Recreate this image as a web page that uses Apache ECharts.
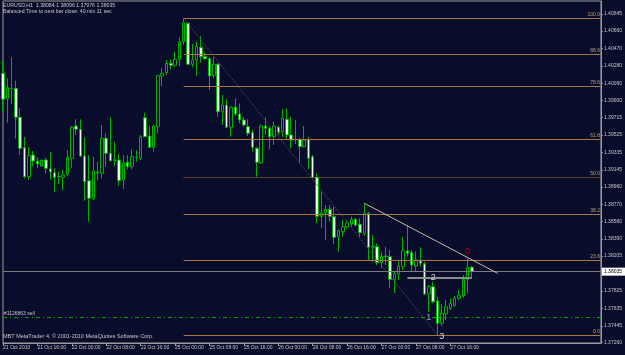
<!DOCTYPE html>
<html><head><meta charset="utf-8">
<script src="https://cdn.jsdelivr.net/npm/echarts@6/dist/echarts.min.js"></script>
<style>html,body{margin:0;padding:0;background:#0a0c2c;}#c{width:625px;height:355px;}</style>
</head><body><div id="c"></div>
<script>
// ---- data ----
const sessions = [['21 Oct', 8, 24], ['22 Oct', 0, 24], ['25 Oct', 0, 24], ['26 Oct', 0, 24], ['27 Oct', 0, 24], ['28 Oct', 0, 24], ['29 Oct', 0, 4]];
const tickLabels = ['21 Oct 2010','21 Oct 16:00','22 Oct 00:00','22 Oct 08:00','22 Oct 16:00','25 Oct 00:00','25 Oct 08:00','25 Oct 16:00','26 Oct 00:00','26 Oct 08:00','26 Oct 16:00','27 Oct 00:00','27 Oct 08:00','27 Oct 16:00'];
const priceTicks = [1.37260,1.37445,1.37635,1.37825,1.38205,1.38390,1.38580,1.38770,1.38960,1.39145,1.39335,1.39525,1.39715,1.39900,1.40090,1.40280,1.40470,1.40660,1.40845];

const open = [1.40199,1.39921,1.40033,1.40035,1.39719,1.39387,1.39071,1.39307,1.39242,1.39187,
1.39253,1.39158,1.39114,1.39071,1.39064,1.39097,1.39271,1.39624,1.39588,1.39296,
1.39027,1.38828,1.39122,1.39108,1.39490,1.39326,1.39253,1.39253,1.39035,1.39228,
1.39180,1.39282,1.39271,1.39714,1.39515,1.39391,1.39616,1.40169,1.40205,1.40308,
1.40286,1.40351,1.40543,1.40744,1.40297,1.40344,1.40482,1.40380,1.40358,1.40173,
1.40297,1.39780,1.39853,1.39610,1.39828,1.39755,1.39689,1.39616,1.39551,1.39380,
1.39223,1.39624,1.39599,1.39507,1.39610,1.39562,1.39697,1.39526,1.39471,1.39479,
1.39398,1.39479,1.39289,1.39064,1.38635,1.38678,1.38716,1.38635,1.38416,1.38471,
1.38525,1.38555,1.38606,1.38552,1.38452,1.38671,1.38301,1.38307,1.38133,1.38206,
1.38198,1.37951,1.38010,1.38089,1.38261,1.38242,1.38097,1.38155,1.38119,1.37791,
1.37871,1.37715,1.37472,1.37574,1.37635,1.37664,1.37744,1.37770,1.37951,1.38084];
const close = [1.39915,1.40041,1.40036,1.39719,1.39380,1.39071,1.39300,1.39242,1.39209,1.39253,
1.39162,1.39122,1.39064,1.39073,1.39089,1.39282,1.39610,1.39588,1.39296,1.39016,
1.38835,1.39133,1.39111,1.39490,1.39326,1.39245,1.39250,1.39027,1.39223,1.39180,
1.39289,1.39285,1.39507,1.39507,1.39391,1.39624,1.40173,1.40199,1.40308,1.40286,
1.40351,1.40543,1.40750,1.40297,1.40344,1.40489,1.40380,1.40358,1.40169,1.40297,
1.39780,1.39853,1.39610,1.39828,1.39755,1.39689,1.39635,1.39544,1.39391,1.39228,
1.39624,1.39599,1.39507,1.39624,1.39555,1.39708,1.39526,1.39471,1.39476,1.39398,
1.39471,1.39271,1.39064,1.38639,1.38678,1.38716,1.38639,1.38410,1.38482,1.38525,
1.38569,1.38606,1.38544,1.38460,1.38671,1.38301,1.38315,1.38133,1.38206,1.38198,
1.37951,1.38010,1.38097,1.38264,1.38235,1.38108,1.38162,1.38126,1.37791,1.37871,
1.37707,1.37472,1.37581,1.37653,1.37690,1.37744,1.37780,1.37951,1.38083,1.38035];
const high = [1.40336,1.40144,1.40373,1.40118,1.39817,1.39504,1.39398,1.39351,1.39282,1.39253,
1.39278,1.39337,1.39162,1.39125,1.39144,1.39362,1.39624,1.39697,1.39697,1.39500,
1.39307,1.39289,1.39234,1.39635,1.39544,1.39719,1.39452,1.39318,1.39307,1.39307,
1.39370,1.39362,1.39526,1.39769,1.39624,1.39635,1.40180,1.40253,1.40344,1.40351,
1.40434,1.40591,1.40798,1.40750,1.40518,1.40543,1.40605,1.40423,1.40376,1.40380,
1.40311,1.39962,1.39915,1.39842,1.39926,1.39871,1.39719,1.39697,1.39580,1.39398,
1.39642,1.39719,1.39616,1.39671,1.39635,1.39809,1.39817,1.39725,1.39689,1.39490,
1.39624,1.39507,1.39307,1.39108,1.38907,1.38762,1.38762,1.38743,1.38497,1.38599,
1.38591,1.38635,1.38617,1.38617,1.38781,1.38689,1.38435,1.38344,1.38253,1.38307,
1.38271,1.38035,1.38144,1.38416,1.38544,1.38271,1.38253,1.38301,1.38144,1.37890,
1.37926,1.37762,1.37682,1.37726,1.37744,1.37770,1.37835,1.37999,1.38181,1.38096];
const low = [1.39780,1.39660,1.39864,1.39485,1.39307,1.39053,1.39035,1.39187,1.39162,1.39180,
1.39108,1.39042,1.38901,1.38991,1.38926,1.39078,1.39169,1.39526,1.39289,1.38809,
1.38580,1.38817,1.39035,1.39053,1.39180,1.39234,1.39187,1.38973,1.38937,1.39151,
1.39151,1.39234,1.39253,1.39507,1.39384,1.39343,1.39544,1.40060,1.40180,1.40242,
1.40271,1.40278,1.40507,1.40289,1.40264,1.40169,1.40314,1.40344,1.40016,1.40144,
1.39725,1.39635,1.39599,1.39507,1.39733,1.39653,1.39616,1.39515,1.39343,1.39071,
1.39209,1.39526,1.39370,1.39416,1.39526,1.39507,1.39471,1.39380,1.39427,1.39217,
1.39391,1.39151,1.39057,1.38563,1.38508,1.38380,1.38580,1.38337,1.38253,1.38416,
1.38508,1.38525,1.38525,1.38416,1.38424,1.38162,1.38144,1.38108,1.38072,1.38108,
1.37853,1.37799,1.37944,1.38053,1.38198,1.38035,1.38035,1.38089,1.37780,1.37598,
1.37690,1.37341,1.37441,1.37508,1.37617,1.37653,1.37726,1.37748,1.37799,1.37976];

const fibHighBar = 42, fibLowBar = 101;
const fibHigh = 1.40798, fibLow = 1.37341;
const fibLevels = [0, 23.6, 38.2, 50.0, 61.8, 78.6, 88.6, 100.0];
const bidPrice = 1.38035;
const orderPrice = 1.37540, orderLabel = '#1126863 sell';
const trendLine = [[84, 1.38781], [115, 1.38017]];
const greySegment = [[94, 1.37969], [109, 1.37969]];
const waveLabels = [
  {name: '1', bar: 99, price: 1.37530, color: '#9aa3c4'},
  {name: '2', bar: 100, price: 1.37973, color: '#d8d8d8'},
  {name: '3', bar: 102, price: 1.37326, color: '#d8d8d8'},
  {name: '0', bar: 108, price: 1.38260, color: '#b00000'}
];
const headerLines = ['EURUSD,H1  1.38084 1.38096 1.37976 1.38035', 'Balanced Time to next bar close: 40 min 11 sec'];
const footerText = 'MBT MetaTrader 4, \u00a9 2001-2010 MetaQuotes Software Corp.';

// ---- build ----
const categories = [];
sessions.forEach(([d, a, b]) => { for (let h = a; h < b; h++) categories.push(d + ' ' + String(h).padStart(2, '0') + ':00'); });
const candles = open.map((o, i) => [o, close[i], low[i], high[i]]);
const lastCat = categories.length - 1;
const BG = '#0a0c2c', GREEN = '#00b000', FONT = 'Liberation Sans';

const fibLines = fibLevels.map(l => {
  const p = fibLow + (fibHigh - fibLow) * l / 100;
  return [
    {coord: [categories[fibHighBar], p], lineStyle: {type: l === 50 ? 'dotted' : 'solid'},
     label: {show: true, position: 'insideEndTop', formatter: l.toFixed(1), color: '#b8a27a', fontSize: 5, fontFamily: FONT, distance: 1}},
    {coord: [categories[lastCat], p]}
  ];
});

const chart = echarts.init(document.getElementById('c'), null, {renderer: 'canvas'});
chart.setOption({
  animation: false,
  backgroundColor: BG,
  textStyle: {fontFamily: FONT},
  grid: {left: 2, right: 23, top: 1, bottom: 12, show: true, borderColor: '#9a9a9a', borderWidth: 1, backgroundColor: BG},
  xAxis: {
    type: 'category', data: categories, boundaryGap: false,
    axisLine: {lineStyle: {color: '#9a9a9a'}},
    axisTick: {show: true, length: 3, lineStyle: {color: '#9a9a9a'}, interval: (i) => i % 8 === 0 && i / 8 < tickLabels.length},
    axisLabel: {interval: (i) => i % 8 === 0 && i / 8 < tickLabels.length, formatter: (v, i) => tickLabels[i / 8] || '',
      align: 'left', color: '#c4c4c4', fontSize: 5, fontFamily: FONT, margin: 2},
    splitLine: {show: false}
  },
  yAxis: {
    type: 'value', position: 'right', min: 1.37257, max: 1.40987, scale: true,
    axisLine: {show: true, lineStyle: {color: '#9a9a9a'}},
    axisTick: {show: true, length: 2, customValues: priceTicks, lineStyle: {color: '#9a9a9a'}},
    axisLabel: {customValues: priceTicks, formatter: v => v.toFixed(5), color: '#c4c4c4', fontSize: 5, fontFamily: FONT, margin: 3},
    splitLine: {show: false}
  },
  graphic: [
    {type: 'text', left: 3, top: 3, style: {text: headerLines[0], fill: '#c8c8c8', font: '5.2px "Liberation Sans"'}},
    {type: 'text', left: 3, top: 9, style: {text: headerLines[1], fill: '#c8c8c8', font: '5.2px "Liberation Sans"'}},
    {type: 'text', left: 3, top: 333, style: {text: footerText, fill: '#c8c8c8', font: '5.5px "Liberation Sans"'}}
  ],
  series: [
    {
      type: 'candlestick', data: candles, barWidth: 3,
      itemStyle: {color: BG, color0: '#e6ffe6', borderColor: GREEN, borderColor0: GREEN, borderWidth: 1},
      markLine: {
        silent: true, symbol: 'none', animation: false,
        lineStyle: {color: '#a8763c', width: 1, type: 'solid'},
        label: {show: false},
        data: [
          [{coord: [categories[0], orderPrice], lineStyle: {color: '#00a000', type: [4, 3, 1, 3]},
            label: {show: true, position: 'insideStartTop', formatter: orderLabel, color: '#c4c4c4', fontSize: 5, fontFamily: FONT, distance: 1}},
           {coord: [categories[lastCat], orderPrice]}],
          [{coord: [categories[0], bidPrice], lineStyle: {color: '#7c7c7c'},
            label: {show: true, position: 'end', formatter: bidPrice.toFixed(5), color: '#000', backgroundColor: '#ffffff', fontSize: 5, fontFamily: FONT, padding: [2, 3, 1, 2], distance: 1}},
           {coord: [categories[lastCat], bidPrice]}],
          ...fibLines,
          [{coord: [categories[fibHighBar], fibHigh], lineStyle: {color: '#5a5246', type: 'dotted'}}, {coord: [categories[fibLowBar], fibLow]}],
          [{coord: [categories[trendLine[0][0]], trendLine[0][1]], lineStyle: {color: '#c9bb9c'}}, {coord: [categories[trendLine[1][0]], trendLine[1][1]]}],
          [{coord: [categories[greySegment[0][0]], greySegment[0][1]], lineStyle: {color: '#8c8c8c', width: 2}}, {coord: [categories[greySegment[1][0]], greySegment[1][1]]}]
        ]
      },
      markPoint: {
        silent: true, symbol: 'circle', symbolSize: 1, animation: false,
        itemStyle: {color: 'rgba(0,0,0,0)'},
        data: waveLabels.map(w => ({coord: [categories[w.bar], w.price], name: w.name,
          label: {show: true, position: 'inside', formatter: w.name, color: w.color, fontSize: 9, fontFamily: FONT}}))
      }
    }
  ]
});
</script></body></html>
